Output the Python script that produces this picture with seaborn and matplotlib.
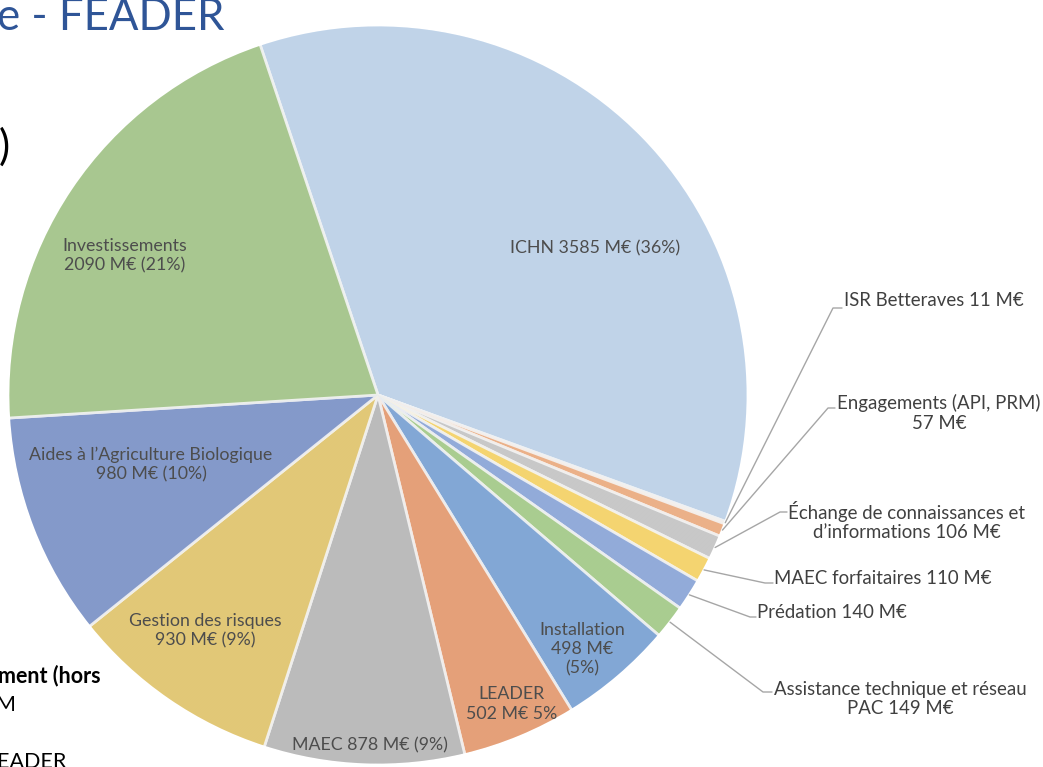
import numpy as np
import matplotlib.pyplot as plt
import seaborn as sns
from matplotlib.colors import to_rgb

# Data (M€), clockwise from ICHN
categories = ["ICHN", "ISR Betteraves", "Engagements (API, PRM)",
              "Échange de connaissances et d’informations", "MAEC forfaitaires",
              "Prédation", "Assistance technique et réseau PAC", "Installation",
              "LEADER", "MAEC", "Gestion des risques",
              "Aides à l’Agriculture Biologique", "Investissements"]
values = [3585, 11, 57, 106, 110, 140, 149, 498, 502, 878, 930, 980, 2090]
colors = ["#c8dcf2", "#f8cfb2", "#f5b88e", "#d0d0d0", "#fedd75", "#98b2e2",
          "#b0d596", "#88aede", "#eea77e", "#c3c3c3", "#ebd07c", "#8aa0d2",
          "#afcf96"]

inside_labels = {
    "ICHN": "ICHN 3585 M€ (36%)",
    "Investissements": "Investissements\n2090 M€ (21%)",
    "Aides à l’Agriculture Biologique": "Aides à l’Agriculture Biologique\n980 M€ (10%)",
    "Gestion des risques": "Gestion des risques\n930 M€ (9%)",
    "MAEC": "MAEC 878 M€ (9%)",
    "LEADER": "LEADER\n502 M€ 5%",
    "Installation": "Installation\n498 M€\n(5%)",
}
outside_labels = {
    "ISR Betteraves": "ISR Betteraves 11 M€",
    "Engagements (API, PRM)": "Engagements (API, PRM)\n57 M€",
    "Échange de connaissances et d’informations": "Échange de connaissances et\nd’informations 106 M€",
    "MAEC forfaitaires": "MAEC forfaitaires 110 M€",
    "Prédation": "Prédation 140 M€",
    "Assistance technique et réseau PAC": "Assistance technique et réseau\nPAC 149 M€",
}

sns.set_theme(style="white")
plt.rcParams['font.family'] = ['Lato', 'DejaVu Sans']
plt.rcParams['hatch.linewidth'] = 0.8

W, H = 1043, 767
fig = plt.figure(figsize=(W / 100, H / 100), dpi=100)
ax = fig.add_axes([0, 0, 1, 1])

cx, cy, R = 378, H - 395, 370
wedges, _ = ax.pie(values, colors=colors, startangle=108.6, counterclock=False,
                   center=(cx, cy), radius=R,
                   wedgeprops=dict(edgecolor="white", linewidth=2))

# fine diagonal stripe texture like the original
stripes, _ = ax.pie(values, colors=colors, startangle=108.6, counterclock=False,
                    center=(cx, cy), radius=R - 1.5,
                    wedgeprops=dict(fill=False, linewidth=0, hatch="/" * 20))
for s, c in zip(stripes, colors):
    r, g, b = to_rgb(c)
    s.set_edgecolor((r * 0.75, g * 0.75, b * 0.75, 0.16))

# labels inside the pie (pixel positions, y from top)
inside_pos = {
    "ICHN": (595, 248),
    "Investissements": (125, 256),
    "Aides à l’Agriculture Biologique": (151, 465),
    "Gestion des risques": (205, 631),
    "MAEC": (370, 745),
    "LEADER": (512, 704),
    "Installation": (582, 649),
}
for cat, txt in inside_labels.items():
    x, y = inside_pos[cat]
    ax.text(x, H - y, txt, ha="center", va="center", fontsize=12.8,
            color="#4d4d4d", linespacing=1.25)

# outside labels with leader lines: (elbow x, elbow y, stub end x, text x, text y, ha)
outside_pos = {
    "ISR Betteraves": (833, 308, 842, 844, 301, "left"),
    "Engagements (API, PRM)": (828, 408, 835, 939, 413, "center"),
    "Échange de connaissances et d’informations": (780, 512, 787, 907, 521, "center"),
    "MAEC forfaitaires": (765, 583, 773, 774, 578, "left"),
    "Prédation": (750, 617, 756, 757, 612, "left"),
    "Assistance technique et réseau PAC": (763, 692, 772, 900, 699, "center"),
}
for cat, txt in outside_labels.items():
    w = wedges[categories.index(cat)]
    ang = np.deg2rad((w.theta1 + w.theta2) / 2)
    x0, y0 = cx + R * np.cos(ang), cy + R * np.sin(ang)
    ex, ey, sx, tx, ty, ha = outside_pos[cat]
    ax.plot([x0, ex, sx], [y0, H - ey, H - ey], color="#a6a6a6", lw=1)
    ax.text(tx, H - ty, txt, ha=ha, va="center", fontsize=13.4,
            color="#404040", linespacing=1.2, multialignment="center")

# fragments of the surrounding slide
ax.text(-3, H - 18, "e - FEADER", ha="left", va="center", fontsize=31.5,
        color="#2f5597")
ax.text(10, H - 147, ")", ha="right", va="center", fontsize=30, color="black")
ax.text(-2, H - 676, "ment (hors", ha="left", va="center", fontsize=15.5,
        fontweight="bold", color="black")
ax.text(-4, H - 705, "M", ha="left", va="center", fontsize=15.5, color="black")
ax.text(-3, H - 752, "EADER", ha="left", va="top", fontsize=15.5, color="black")

ax.set_xlim(0, W)
ax.set_ylim(0, H)
ax.axis("off")

fig.savefig("out.png", dpi=100)
